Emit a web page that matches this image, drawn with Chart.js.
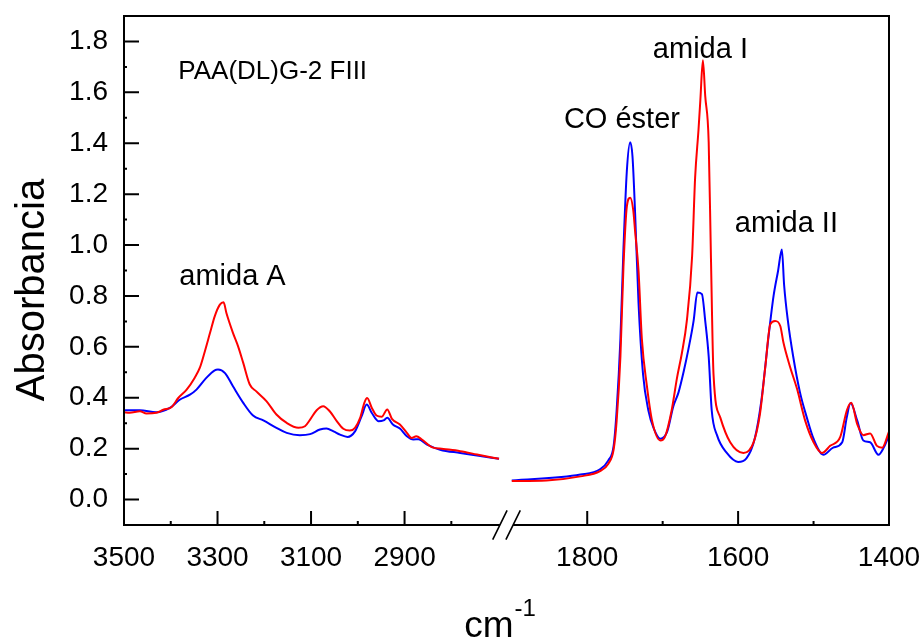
<!DOCTYPE html>
<html>
<head>
<meta charset="utf-8">
<title>PAA(DL)G-2 FIII</title>
<script src="https://cdn.jsdelivr.net/npm/chart.js@4.4.1/dist/chart.umd.min.js"></script>
<style>
  html, body { margin: 0; padding: 0; background: #fff; }
  #ftir { display: block; }
</style>
</head>
<body>
<canvas id="ftir" width="924" height="644"></canvas>
<script>
// espectro IR, zona alta (3500-2700 cm-1)
var altaWnRojo = [3500, 3488, 3466, 3452, 3431, 3416, 3398, 3384, 3366, 3349, 3338, 3327, 3316, 3306, 3295, 3287, 3281, 3267, 3256, 3245, 3231, 3217, 3195, 3174, 3152, 3127, 3113, 3102, 3088, 3074, 3060, 3045, 3031, 3017, 3006, 2995, 2986, 2980, 2970, 2960, 2949, 2937, 2927, 2910, 2895, 2885, 2875, 2863, 2842, 2817, 2781, 2745, 2698];
var altaAbsRojo = [0.343, 0.341, 0.347, 0.338, 0.341, 0.353, 0.364, 0.399, 0.432, 0.478, 0.517, 0.583, 0.655, 0.720, 0.766, 0.775, 0.733, 0.655, 0.602, 0.537, 0.452, 0.425, 0.386, 0.334, 0.301, 0.282, 0.288, 0.314, 0.351, 0.367, 0.347, 0.308, 0.278, 0.271, 0.282, 0.321, 0.380, 0.399, 0.360, 0.330, 0.325, 0.354, 0.317, 0.295, 0.262, 0.242, 0.249, 0.236, 0.206, 0.199, 0.190, 0.177, 0.160];

var altaWnAzul = [3500, 3466, 3431, 3402, 3381, 3359, 3345, 3324, 3306, 3299, 3284, 3267, 3245, 3224, 3202, 3174, 3152, 3124, 3102, 3081, 3067, 3052, 3038, 3022, 3006, 2992, 2981, 2970, 2956, 2945, 2937, 2925, 2910, 2895, 2881, 2870, 2852, 2824, 2781, 2745, 2698];
var altaAbsAzul = [0.351, 0.351, 0.343, 0.360, 0.392, 0.412, 0.432, 0.478, 0.508, 0.511, 0.497, 0.445, 0.380, 0.330, 0.311, 0.282, 0.262, 0.253, 0.257, 0.275, 0.279, 0.268, 0.255, 0.246, 0.268, 0.327, 0.373, 0.340, 0.308, 0.311, 0.321, 0.295, 0.279, 0.249, 0.236, 0.237, 0.216, 0.196, 0.183, 0.173, 0.160];

// zona baja (1900-1400 cm-1)
var bajaWnRojo = [1900, 1854, 1809, 1783, 1772, 1765, 1761, 1756, 1752, 1747.5, 1743, 1739, 1736.5, 1732, 1727.6, 1721, 1714, 1703, 1697, 1688, 1681, 1674.5, 1668, 1661, 1657, 1652.5, 1650, 1646.7, 1643.6, 1639, 1636, 1632.6, 1623.7, 1610.5, 1593, 1579.5, 1571, 1564, 1557.4, 1551, 1544, 1540, 1531, 1522, 1511, 1500, 1489, 1478, 1464.6, 1455.7, 1450, 1442, 1434, 1425, 1416, 1409, 1400];
var bajaAbsRojo = [0.073, 0.075, 0.091, 0.112, 0.141, 0.196, 0.309, 0.562, 0.912, 1.151, 1.186, 1.137, 1.053, 0.899, 0.632, 0.449, 0.309, 0.232, 0.246, 0.352, 0.478, 0.576, 0.702, 0.955, 1.264, 1.453, 1.572, 1.726, 1.586, 1.404, 0.950, 0.492, 0.323, 0.225, 0.183, 0.225, 0.337, 0.520, 0.688, 0.702, 0.681, 0.618, 0.520, 0.436, 0.309, 0.225, 0.183, 0.211, 0.246, 0.352, 0.380, 0.295, 0.253, 0.260, 0.211, 0.204, 0.267];

var bajaWnAzul = [1900, 1809, 1783, 1772, 1765, 1761, 1756, 1752, 1747.5, 1743, 1740, 1736.5, 1732, 1726, 1719, 1712, 1703, 1694, 1686, 1679, 1672, 1666, 1659, 1654, 1648, 1643.6, 1639, 1635, 1628, 1615, 1600, 1589, 1578, 1569, 1560, 1553, 1547, 1542, 1539, 1534, 1527, 1518, 1509, 1500, 1487, 1474, 1462, 1456, 1451, 1442, 1434, 1425, 1414, 1407, 1400];
var bajaAbsAzul = [0.075, 0.098, 0.119, 0.154, 0.211, 0.351, 0.632, 0.983, 1.291, 1.404, 1.348, 1.123, 0.772, 0.492, 0.351, 0.281, 0.239, 0.267, 0.365, 0.421, 0.505, 0.589, 0.702, 0.814, 0.807, 0.702, 0.562, 0.351, 0.253, 0.183, 0.148, 0.162, 0.239, 0.393, 0.632, 0.800, 0.899, 0.983, 0.842, 0.702, 0.562, 0.421, 0.323, 0.239, 0.176, 0.204, 0.225, 0.323, 0.379, 0.309, 0.232, 0.225, 0.176, 0.204, 0.253];

// marcas de los ejes
var yMayores = [0, 0.2, 0.4, 0.6, 0.8, 1.0, 1.2, 1.4, 1.6, 1.8];
var yMenores = [0.1, 0.3, 0.5, 0.7, 0.9, 1.1, 1.3, 1.5, 1.7];
var altaMayores = [3500, 3300, 3100, 2900];
var altaMenores = [3400, 3200, 3000, 2800];
var bajaMayores = [1800, 1600, 1400];
var bajaMenores = [1700, 1500];

var fuente = '"Liberation Sans", Arial, Helvetica, sans-serif';

function puntos(wn, abs) {
    return wn.map(function(w, i) { return { x: w, y: abs[i] }; });
}

function marcas(mayores, menores) {
    return function(scale) {
        scale.ticks = mayores.concat(menores)
            .sort(function(a, b) { return a - b; })
            .map(function(v) { return { value: v }; });
    };
}

function rotulo(mayores, decimales) {
    return function(v) {
        return mayores.indexOf(v) >= 0 ? v.toFixed(decimales) : '';
    };
}

// textos sobre los picos
var notas = [
    { texto: 'PAA(DL)G-2 FIII', eje: 'xAlta', x: 3182, y: 1.654, size: 26 },
    { texto: 'amida A', eje: 'xAlta', x: 3268, y: 0.842, size: 29 },
    { texto: 'CO éster', eje: 'xBaja', x: 1754, y: 1.460, size: 29 },
    { texto: 'amida I', eje: 'xBaja', x: 1650, y: 1.734, size: 29 },
    { texto: 'amida II', eje: 'xBaja', x: 1536, y: 1.053, size: 29 }
];

var marco = {
    id: 'marco',
    afterDatasetsDraw: function(chart) {
        var ctx = chart.ctx;
        var a = chart.chartArea;
        var sx1 = chart.scales.xAlta, sx2 = chart.scales.xBaja, sy = chart.scales.y;
        var corte = sx1.right;

        ctx.save();
        ctx.strokeStyle = '#000';
        ctx.lineWidth = 2;
        ctx.lineCap = 'butt';
        ctx.beginPath();
        ctx.moveTo(a.left, a.bottom);
        ctx.lineTo(a.left, a.top);
        ctx.lineTo(a.right, a.top);
        ctx.lineTo(a.right, a.bottom + 1);
        ctx.moveTo(a.left - 1, a.bottom);
        ctx.lineTo(corte - 6.6, a.bottom);
        ctx.moveTo(corte + 6.6, a.bottom);
        ctx.lineTo(a.right + 1, a.bottom);
        ctx.stroke();

        // doble barra del corte de eje
        ctx.lineWidth = 1.6;
        ctx.beginPath();
        [-6.6, 6.6].forEach(function(d) {
            ctx.moveTo(corte + d - 7.2, a.bottom + 14.6);
            ctx.lineTo(corte + d + 7.2, a.bottom - 14.6);
        });
        ctx.stroke();

        // ticks hacia dentro
        ctx.lineWidth = 2;
        ctx.beginPath();
        [sx1, sx2].forEach(function(s) {
            s.ticks.forEach(function(t) {
                var px = s.getPixelForValue(t.value);
                var largo = t.label ? 14 : 4;
                ctx.moveTo(px, a.bottom);
                ctx.lineTo(px, a.bottom - largo);
            });
        });
        sy.ticks.forEach(function(t) {
            var py = sy.getPixelForValue(t.value);
            var largo = t.label ? 15 : 3;
            ctx.moveTo(a.left, py);
            ctx.lineTo(a.left + largo, py);
        });
        ctx.stroke();
        ctx.restore();
    },
    afterDraw: function(chart) {
        var ctx = chart.ctx;
        var a = chart.chartArea;
        ctx.save();
        ctx.fillStyle = '#000';
        ctx.textBaseline = 'alphabetic';

        notas.forEach(function(n) {
            ctx.font = n.size + 'px ' + fuente;
            ctx.textAlign = 'center';
            ctx.fillText(n.texto, chart.scales[n.eje].getPixelForValue(n.x), chart.scales.y.getPixelForValue(n.y));
        });

        // titulo del eje y
        ctx.save();
        ctx.translate(44, 290);
        ctx.rotate(-Math.PI / 2);
        ctx.font = '40px ' + fuente;
        ctx.textAlign = 'center';
        ctx.fillText('Absorbancia', 0, 0);
        ctx.restore();

        // titulo del eje x: cm con exponente -1
        var cx = (a.left + a.right) / 2;
        ctx.font = '37px ' + fuente;
        ctx.textAlign = 'right';
        ctx.fillText('cm', cx + 7, 637);
        ctx.font = '24px ' + fuente;
        ctx.textAlign = 'left';
        ctx.fillText('-1', cx + 8, 616);
        ctx.restore();
    }
};

function ejeX(min, max, mayores, menores) {
    return {
        type: 'linear',
        position: 'bottom',
        stack: 'numeroOnda',
        stackWeight: 1,
        reverse: true,
        min: min,
        max: max,
        afterBuildTicks: marcas(mayores, menores),
        afterFit: function(s) {
            s.height = 119;
            s.paddingLeft = 0;
            s.paddingRight = 0;
        },
        grid: { display: true, drawOnChartArea: false, drawTicks: false },
        border: { display: false },
        ticks: {
            autoSkip: false,
            maxRotation: 0,
            padding: 16,
            color: '#000',
            font: { family: fuente, size: 28 },
            callback: rotulo(mayores, 0)
        }
    };
}

var config = {
    type: 'line',
    data: {
        datasets: [{
            label: 'rojo alta',
            xAxisID: 'xAlta',
            data: puntos(altaWnRojo, altaAbsRojo),
            borderColor: '#ff0000'
        }, {
            label: 'rojo baja',
            xAxisID: 'xBaja',
            data: puntos(bajaWnRojo, bajaAbsRojo),
            borderColor: '#ff0000'
        }, {
            label: 'azul alta',
            xAxisID: 'xAlta',
            data: puntos(altaWnAzul, altaAbsAzul),
            borderColor: '#0000ff'
        }, {
            label: 'azul baja',
            xAxisID: 'xBaja',
            data: puntos(bajaWnAzul, bajaAbsAzul),
            borderColor: '#0000ff'
        }]
    },
    options: {
        responsive: false,
        animation: false,
        layout: { padding: { left: 0, top: 16, right: 35, bottom: 0 } },
        elements: {
            line: { borderWidth: 2, fill: false, cubicInterpolationMode: 'monotone' },
            point: { radius: 0, hoverRadius: 0 }
        },
        plugins: {
            legend: { display: false },
            tooltip: { enabled: false }
        },
        scales: {
            xAlta: ejeX(2682, 3500, altaMayores, altaMenores),
            xBaja: ejeX(1400, 1907, bajaMayores, bajaMenores),
            y: {
                type: 'linear',
                position: 'left',
                min: -0.1,
                max: 1.9,
                afterBuildTicks: marcas(yMayores, yMenores),
                afterFit: function(s) {
                    s.width = 124;
                    s.paddingTop = 0;
                    s.paddingBottom = 0;
                },
                grid: { display: true, drawOnChartArea: false, drawTicks: false },
                border: { display: false },
                ticks: {
                    autoSkip: false,
                    padding: 16,
                    color: '#000',
                    font: { family: fuente, size: 28 },
                    callback: rotulo(yMayores, 1)
                }
            }
        }
    },
    plugins: [marco]
};

var espectro = new Chart(document.getElementById('ftir'), config);
</script>
</body>
</html>
